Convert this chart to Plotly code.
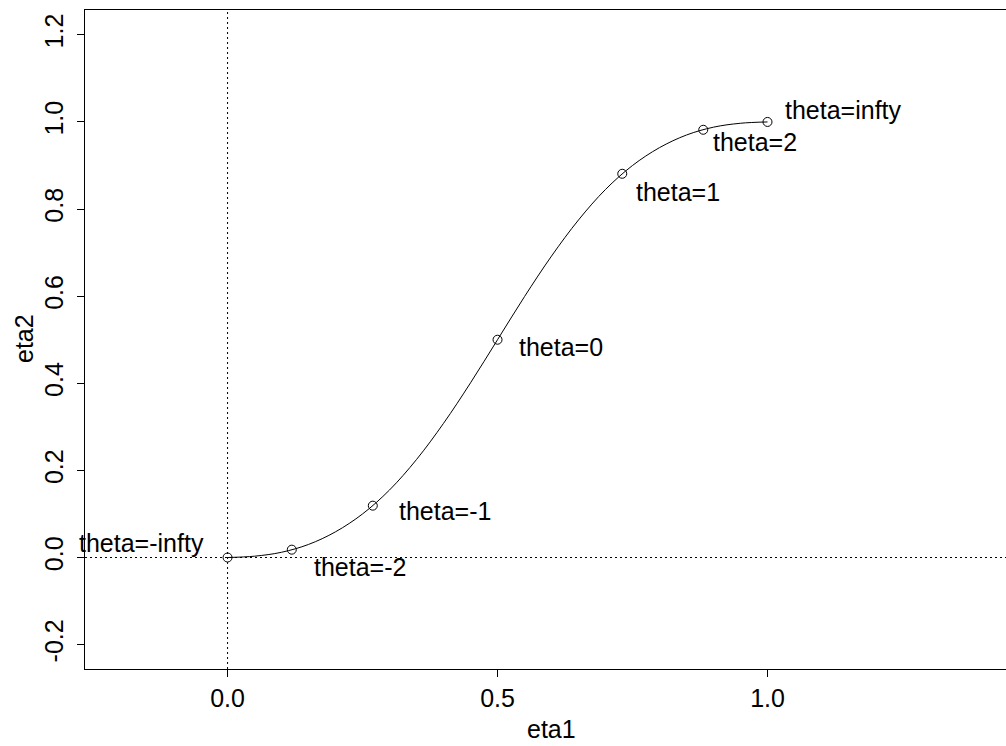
import plotly.graph_objects as go

# Curve eta2 against eta1, sampled along eta1
curve_eta1 = [0.0, 0.05, 0.10, 0.15, 0.20, 0.25, 0.30, 0.35, 0.40, 0.45, 0.50,
              0.55, 0.60, 0.65, 0.70, 0.75, 0.80, 0.85, 0.90, 0.95, 1.0]
curve_eta2 = [0.0, 0.003, 0.012, 0.030, 0.059, 0.100, 0.155, 0.225, 0.308, 0.401, 0.500,
              0.599, 0.692, 0.775, 0.845, 0.900, 0.941, 0.970, 0.988, 0.997, 1.0]

# Marked theta values
point_eta1 = [0.0, 0.119, 0.269, 0.5, 0.731, 0.881, 1.0]
point_eta2 = [0.0, 0.018, 0.119, 0.5, 0.881, 0.982, 1.0]
point_labels = ["theta=-infty", "theta=-2", "theta=-1", "theta=0",
                "theta=1", "theta=2", "theta=infty"]

x_ticks = [0.0, 0.5, 1.0]
x_ticktext = ["0.0", "0.5", "1.0"]
y_ticks = [-0.2, 0.0, 0.2, 0.4, 0.6, 0.8, 1.0, 1.2]
y_ticktext = ["-0.2", "0.0", "0.2", "0.4", "0.6", "0.8", "1.0", "1.2"]

FONT = "Liberation Sans, Arial, sans-serif"
FS = 25

# plot area in pixels
L, R, T, B = 85, 1006, 10, 669
PW, PH = R - L, B - T

# label placement: (xanchor, xshift px, yshift px)
label_place = [
    ("right", -22, 15),
    ("left", 20, -17),
    ("left", 24, -5),
    ("left", 19, -7),
    ("left", 12, -18),
    ("left", 8, -12),
    ("left", 15, 12),
]

fig = go.Figure()

fig.add_trace(go.Scatter(
    x=curve_eta1, y=curve_eta2, mode="lines",
    line=dict(color="black", width=1, shape="spline", smoothing=1.0),
    hoverinfo="skip", showlegend=False,
))
fig.add_trace(go.Scatter(
    x=point_eta1, y=point_eta2, mode="markers",
    marker=dict(symbol="circle-open", size=9, color="black", line=dict(width=1, color="black")),
    showlegend=False,
))

# dotted reference lines through the origin
fig.add_shape(type="line", xref="x", yref="paper", x0=0, x1=0, y0=0, y1=1,
              line=dict(color="black", width=1, dash="2px,3px"))
fig.add_shape(type="line", xref="paper", yref="y", x0=0, x1=1, y0=0, y1=0,
              line=dict(color="black", width=1, dash="2px,3px"))

for xv, yv, txt, (xa, xs, ys) in zip(point_eta1, point_eta2, point_labels, label_place):
    fig.add_annotation(x=xv, y=yv, xref="x", yref="y", text=txt, showarrow=False,
                       xanchor=xa, yanchor="middle", xshift=xs, yshift=ys,
                       font=dict(family=FONT, size=FS, color="black"))

# axis titles (paper coordinates are relative to the plot area)
fig.add_annotation(x=(551 - L) / PW, y=(B - 745) / PH, xref="paper", yref="paper",
                   text="eta1", showarrow=False, xanchor="center", yanchor="bottom",
                   font=dict(family=FONT, size=FS, color="black"))
fig.add_annotation(x=(24 - L) / PW, y=(B - 339) / PH, xref="paper", yref="paper",
                   text="eta2", showarrow=False, textangle=-90, xanchor="center", yanchor="middle",
                   font=dict(family=FONT, size=FS, color="black"))

fig.update_layout(
    width=1006, height=746,
    margin=dict(l=L, r=1006 - R, t=T, b=746 - B),
    paper_bgcolor="white", plot_bgcolor="white",
    font=dict(family=FONT, size=FS, color="black"),
    xaxis=dict(range=[-0.264, 1.4417], tickvals=x_ticks, ticktext=x_ticktext,
               showgrid=False, zeroline=False, showline=True, linecolor="black", linewidth=1,
               mirror=True, ticks="outside", ticklen=7, tickcolor="black",
               tickfont=dict(family=FONT, size=FS, color="black")),
    yaxis=dict(range=[-0.256, 1.257], tickvals=y_ticks, ticktext=y_ticktext,
               showgrid=False, zeroline=False, showline=True, linecolor="black", linewidth=1,
               mirror=False, ticks="outside", ticklen=7, tickcolor="black", tickangle=-90,
               ticklabelstandoff=4,
               tickfont=dict(family=FONT, size=FS, color="black")),
)

fig.write_html("out.html")
